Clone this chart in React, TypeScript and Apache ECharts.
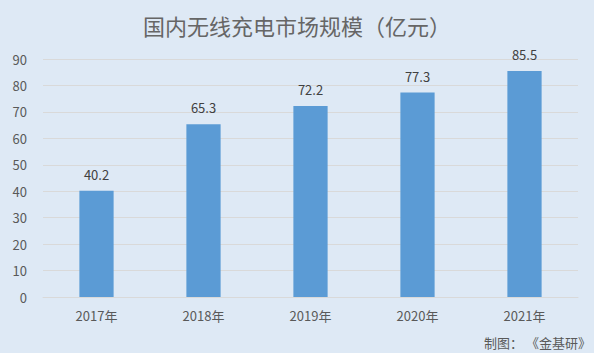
import React, { useEffect, useRef } from "react";
import * as echarts from "echarts";

const categories = ["2017年", "2018年", "2019年", "2020年", "2021年"];
const values = [40.2, 65.3, 72.2, 77.3, 85.5];
const titleText = "国内无线充电市场规模（亿元）";
const sourceText = "制图： 《金基研》";

export default function App() {
  const ref = useRef<HTMLDivElement>(null);
  useEffect(() => {
    const chart = echarts.init(ref.current!, null, { renderer: "svg" });
    chart.setOption({
      animation: false,
      backgroundColor: "#dee9f5",
      textStyle: { fontFamily: "Noto Sans CJK SC, sans-serif" },
      title: {
        text: titleText,
        left: "center",
        top: 9,
        textStyle: { fontSize: 22, fontWeight: "normal", color: "#666666" },
      },
      graphic: [
        {
          type: "text",
          right: 3,
          bottom: 4,
          style: { text: sourceText, fontSize: 13, fill: "#595959", fontFamily: "Noto Sans CJK SC, sans-serif" },
        },
      ],
      grid: { left: 43, right: 16, top: 59, bottom: 56 },
      xAxis: {
        type: "category",
        data: categories,
        axisLine: { lineStyle: { color: "#d9d9d9" } },
        axisTick: { show: false },
        axisLabel: { color: "#595959", fontSize: 13, margin: 12 },
      },
      yAxis: {
        type: "value",
        min: 0,
        max: 90,
        interval: 10,
        axisLine: { show: false },
        axisTick: { show: false },
        axisLabel: { color: "#595959", fontSize: 13, margin: 16 },
        splitLine: { lineStyle: { color: "#d9d9d9" } },
      },
      series: [
        {
          type: "bar",
          data: values,
          barWidth: "32%",
          itemStyle: { color: "#5b9bd5" },
          label: { show: true, position: "top", color: "#404040", fontSize: 13, distance: 10 },
        },
      ],
    });
    return () => chart.dispose();
  }, []);
  return <div ref={ref} style={{ position: "absolute", left: 0, top: 0, width: 594, height: 353 }} />;
}
